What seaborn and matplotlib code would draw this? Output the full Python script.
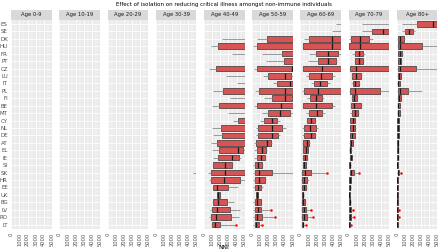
import matplotlib
matplotlib.use("Agg")
import matplotlib.pyplot as plt
from matplotlib.patches import Rectangle
import numpy as np
import pandas as pd
import seaborn as sns

countries = ["ES", "SE", "DK", "HU", "FR", "PT", "CZ", "LU", "IT", "PL",
             "FI", "BE", "MT", "CY", "NL", "DE", "AT", "EL", "IE", "SI",
             "SK", "HR", "EE", "UK", "BG", "LV", "RO", "LT"]
age_groups = ["Age 0-9", "Age 10-19", "Age 20-29", "Age 30-39", "Age 40-49",
              "Age 50-59", "Age 60-69", "Age 70-79", "Age 80+"]

# box stats per country: (low whisker, q1, median, q3, high whisker)
nni_30_39 = {"SK": (4600, 5600, 6500, 7500, 9000)}

nni_40_49 = {
    "DK": (2200, 5600, 7000, 8500, 11000), "HU": (850, 1750, 5600, 7000, 9000),
    "FR": (3400, 5600, 6500, 7500, 9000), "CZ": (650, 1500, 5500, 7000, 9000),
    "LU": (2750, 5600, 6500, 7500, 9000), "IT": (4100, 5800, 7000, 8000, 9500),
    "PL": (1100, 2350, 5600, 7000, 9000), "FI": (3250, 5600, 6500, 7500, 9000),
    "BE": (950, 1800, 5400, 6800, 9000), "MT": (2900, 5600, 6500, 7500, 9000),
    "CY": (3600, 4200, 5600, 7000, 9000), "NL": (950, 2050, 5400, 7000, 9000),
    "DE": (1100, 2200, 5400, 7000, 9000), "AT": (850, 1550, 5300, 6500, 8500),
    "EL": (950, 1800, 4150, 4800, 6000), "IE": (1050, 1700, 3500, 4300, 4600),
    "SI": (950, 1150, 2600, 3400, 3600), "SK": (500, 850, 2550, 5500, 8000),
    "HR": (650, 850, 2450, 4400, 5400), "EE": (950, 1150, 1600, 2950, 4200),
    "UK": (1600, 1600, 1770, 1970, 1970), "BG": (950, 1150, 1750, 2800, 3750),
    "LV": (750, 970, 1570, 3250, 4450), "RO": (650, 850, 1530, 3350, 4300),
    "LT": (850, 950, 1300, 1970, 3800),
}
nni_50_59 = {
    "DK": (550, 1780, 5600, 7000, 9000), "HU": (150, 620, 5600, 7000, 9000),
    "FR": (1200, 3630, 5600, 7000, 9000), "PT": (1700, 3920, 5600, 7000, 9000),
    "CZ": (200, 540, 4870, 6500, 9000), "LU": (1300, 1960, 4000, 4750, 5600),
    "IT": (2550, 3100, 4670, 5600, 7000), "PL": (400, 830, 4050, 5600, 8000),
    "FI": (1400, 2380, 3980, 4900, 5500), "BE": (200, 620, 3510, 5600, 8000),
    "MT": (1200, 1960, 3450, 4700, 5300), "CY": (950, 1450, 2440, 3100, 3430),
    "NL": (410, 720, 2400, 3620, 4100), "DE": (410, 740, 2480, 3180, 3430),
    "AT": (200, 520, 1850, 2270, 2440), "EL": (200, 540, 1240, 1650, 1780),
    "IE": (200, 540, 1030, 1570, 1730), "SI": (150, 330, 740, 1160, 1320),
    "SK": (150, 290, 830, 2480, 5500), "HR": (150, 330, 830, 1530, 1730),
    "EE": (150, 330, 700, 1120, 1360), "UK": (500, 500, 620, 700, 700),
    "BG": (150, 330, 620, 1030, 1120), "LV": (150, 330, 700, 1120, 2230),
    "RO": (150, 290, 620, 1160, 2700), "LT": (150, 330, 500, 830, 1030),
}
nni_60_69 = {
    "ES": (4350, 5600, 6500, 7500, 9000), "SE": (3850, 5600, 6500, 7500, 9000),
    "DK": (430, 1000, 3870, 5600, 8000), "HU": (150, 330, 3870, 5600, 8000),
    "FR": (1100, 1970, 3380, 4650, 5600), "PT": (980, 2110, 3340, 4430, 4550),
    "CZ": (160, 330, 2640, 5200, 7000), "LU": (740, 1110, 2480, 3850, 4230),
    "IT": (1290, 1660, 2440, 3240, 3600), "PL": (160, 450, 2210, 5600, 8000),
    "FI": (820, 1210, 1970, 2690, 2890), "BE": (180, 370, 1870, 3950, 4320),
    "MT": (740, 1110, 2000, 2720, 3030), "CY": (660, 820, 1350, 1800, 1970),
    "NL": (250, 450, 1190, 1890, 2210), "DE": (250, 450, 1270, 1760, 1890),
    "AT": (200, 370, 860, 1070, 1150), "EL": (200, 370, 660, 940, 980),
    "IE": (200, 370, 570, 860, 940), "SI": (150, 290, 450, 660, 700),
    "SK": (100, 250, 530, 1270, 3180), "HR": (100, 250, 450, 860, 1070),
    "EE": (100, 250, 450, 660, 860), "UK": (200, 250, 300, 370, 400),
    "BG": (100, 250, 370, 570, 740), "LV": (100, 250, 450, 740, 1250),
    "RO": (100, 250, 450, 780, 1480), "LT": (100, 200, 290, 370, 570),
}
nni_70_79 = {
    "ES": (1640, 5600, 6500, 7500, 9000), "SE": (1600, 2830, 4220, 5600, 7000),
    "DK": (100, 350, 1440, 2520, 3000), "HU": (50, 100, 1440, 5600, 8000),
    "FR": (410, 740, 1310, 1760, 2050), "PT": (620, 820, 1310, 1760, 1840),
    "CZ": (50, 120, 940, 5600, 8000), "LU": (330, 410, 940, 1520, 1640),
    "IT": (330, 490, 820, 1230, 1350), "PL": (50, 160, 820, 3810, 5600),
    "FI": (300, 410, 700, 1030, 1100), "BE": (200, 290, 700, 1520, 1640),
    "MT": (200, 410, 820, 1100, 1230), "CY": (150, 200, 490, 740, 820),
    "NL": (150, 200, 490, 820, 900), "DE": (150, 200, 410, 740, 820),
    "AT": (80, 120, 330, 490, 530), "EL": (80, 120, 200, 330, 370),
    "IE": (80, 120, 250, 410, 450), "SI": (50, 80, 120, 200, 250),
    "SK": (80, 120, 330, 620, 1130), "HR": (50, 80, 150, 290, 330),
    "EE": (50, 80, 120, 200, 250), "UK": (50, 80, 100, 160, 200),
    "BG": (50, 80, 120, 200, 250), "LV": (50, 80, 150, 290, 430),
    "RO": (50, 80, 180, 330, 490), "LT": (50, 80, 100, 160, 200),
}
nni_80_plus = {
    "ES": (600, 2440, 4490, 5600, 7000), "SE": (700, 1000, 1520, 2030, 2190),
    "DK": (50, 100, 390, 840, 980), "HU": (50, 100, 430, 3140, 6000),
    "FR": (100, 160, 370, 660, 780), "PT": (100, 160, 370, 570, 620),
    "CZ": (50, 100, 370, 2400, 6000), "LU": (50, 100, 290, 490, 530),
    "IT": (50, 100, 210, 370, 410), "PL": (50, 100, 370, 1350, 3110),
    "FI": (50, 100, 250, 490, 530), "BE": (50, 100, 200, 370, 410),
    "MT": (50, 100, 200, 370, 410), "CY": (30, 60, 120, 250, 290),
    "NL": (30, 60, 120, 250, 290), "DE": (30, 60, 120, 250, 290),
    "AT": (30, 60, 100, 160, 200), "EL": (30, 60, 100, 160, 200),
    "IE": (30, 60, 100, 160, 200), "SI": (30, 50, 80, 120, 150),
    "SK": (50, 100, 160, 290, 400), "HR": (30, 50, 80, 120, 150),
    "EE": (30, 50, 80, 120, 150), "UK": (30, 50, 70, 100, 120),
    "BG": (30, 50, 80, 120, 150), "LV": (30, 50, 80, 120, 160),
    "RO": (30, 50, 80, 130, 180), "LT": (30, 50, 70, 100, 130),
}

# outliers (red points)
out_40_49 = {"LT": [3900]}
out_50_59 = {"LV": [2300], "RO": [2850], "LT": [1260]}
out_60_69 = {"SK": [3280], "LV": [1300], "RO": [1540], "LT": [740]}
out_70_79 = {"SK": [1230], "LV": [530], "RO": [620], "LT": [290]}
out_80_plus = {"SK": [510], "LV": [250], "RO": [290]}

box_data = [{}, {}, {}, nni_30_39, nni_40_49, nni_50_59, nni_60_69, nni_70_79, nni_80_plus]
out_data = [{}, {}, {}, {}, out_40_49, out_50_59, out_60_69, out_70_79, out_80_plus]

BOX_RED = "#D65454"
TXT = "#4D4D4D"


def to_long(d):
    rows = [(c, v) for c, vals in d.items() for v in vals]
    return pd.DataFrame(rows, columns=["country", "NNI"])


sns.set_theme(style="darkgrid")
plt.rcParams["font.family"] = ["DejaVu Sans"]

fig, axes = plt.subplots(1, 9, figsize=(4.4, 2.52), dpi=100, sharey=True)
fig.subplots_adjust(left=0.0257, right=0.994, top=0.9226, bottom=0.0913, wspace=0.187)

for i, (ax, age) in enumerate(zip(axes, age_groups)):
    ax.set_facecolor("#EBEBEB")
    if box_data[i]:
        sns.boxplot(data=to_long(box_data[i]), x="NNI", y="country", order=countries,
                    orient="h", whis=(0, 100), showfliers=False, showcaps=False,
                    width=0.75, saturation=1, color=BOX_RED, linewidth=0.5,
                    linecolor="#333333",
                    medianprops=dict(color="#1A1A1A", linewidth=0.9),
                    whiskerprops=dict(color="#999999", linewidth=0.7),
                    ax=ax, zorder=3)
    if out_data[i]:
        sns.stripplot(data=to_long(out_data[i]), x="NNI", y="country", order=countries,
                      orient="h", jitter=False, color="red", size=1.8, linewidth=0,
                      ax=ax, zorder=4)

    ax.set_xlim(0, 5000)
    ax.set_ylim(len(countries) - 0.4, -0.6)
    ax.set_xticks(np.arange(0, 5001, 1000))
    ax.set_xticks(np.arange(500, 5000, 1000), minor=True)
    ax.set_xticklabels([str(v) for v in range(0, 5001, 1000)], rotation=90)
    ax.set_yticks(range(len(countries)))
    ax.set_yticklabels(countries)
    ax.grid(True, which="major", color="white", linewidth=0.6)
    ax.grid(True, which="minor", axis="x", color="white", linewidth=0.3)
    ax.set_axisbelow(True)
    for s in ax.spines.values():
        s.set_visible(False)
    ax.tick_params(axis="both", which="major", labelcolor=TXT,
                   color="#333333", length=1.5, width=0.4, pad=1)
    ax.tick_params(axis="x", which="major", labelsize=3.7)
    ax.tick_params(axis="y", which="major", labelsize=4.0)
    ax.tick_params(axis="both", which="minor", length=0)
    if i > 0:
        ax.tick_params(axis="y", labelleft=False, length=0)
    ax.set_xlabel("")
    ax.set_ylabel("")

    # facet strip
    ax.add_patch(Rectangle((0, 1.0), 1, 0.045, transform=ax.transAxes,
                           facecolor="#D9D9D9", edgecolor="none", clip_on=False))
    ax.text(0.5, 1.0225, age, transform=ax.transAxes, ha="center", va="center",
            fontsize=3.8, color="#1A1A1A")

fig.text(0.509, 0.981, "Effect of isolation on reducing critical illness amongst non-immune individuals",
         ha="center", va="center", fontsize=3.95, color="black")
fig.text(0.509, 0.016, "NNI", ha="center", va="center", fontsize=4.2, color="black")

fig.savefig("out.png", dpi=100)
